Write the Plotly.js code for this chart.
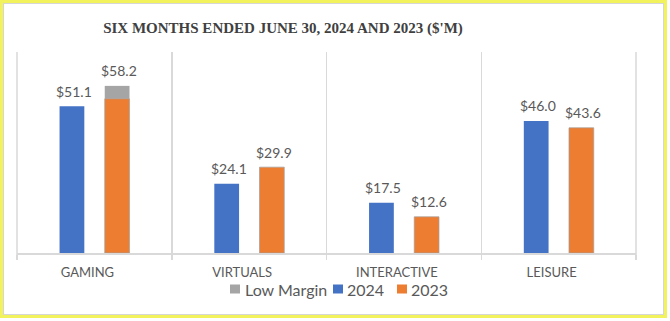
<!DOCTYPE html>
<html>
<head>
<meta charset="utf-8">
<script src="https://cdn.plot.ly/plotly-3.0.1.min.js"></script>
<style>
  html, body { margin: 0; padding: 0; background: #ffffff; }
  #wrap { position: relative; width: 670px; height: 321px; overflow: hidden; background:#fff; }
  #chart { position: absolute; left: 0; top: 0; width: 670px; height: 321px; }
  #frameOuter { position: absolute; left: 0; top: 0; width: 667px; height: 318px; box-sizing: border-box; border: 3px solid #f2f25c; pointer-events: none; }
  #frameInner { position: absolute; left: 3px; top: 3px; width: 661px; height: 312px; box-sizing: border-box; border: 1px solid #d6d6d6; pointer-events: none; }
</style>
</head>
<body>
<div id="wrap">
  <div id="chart"></div>
  <div id="frameOuter"></div>
  <div id="frameInner"></div>
</div>
<script>
// ---- data ----
const categories = ['GAMING', 'VIRTUALS', 'INTERACTIVE', 'LEISURE'];
const values2024 = [51.1, 24.1, 17.5, 46.0];
const values2023 = [53.7, 29.9, 12.6, 43.6];      // 2023 excluding low margin
const lowMargin2023 = [4.5, 0, 0, 0];             // low margin portion (stacked on 2023)
const labels2024 = ['$51.1', '$24.1', '$17.5', '$46.0'];
const labels2023 = ['$58.2', '$29.9', '$12.6', '$43.6'];
const seriesNames = ['Low Margin', '2024', '2023'];
const seriesColors = ['#a5a5a5', '#4472c4', '#ed7d31'];

// ---- layout geometry (pixels) ----
const L = 17, R = 670 - 636, T = 52, B = 321 - 253;
const W = 670 - L - R, H = 321 - T - B;
const px2x = p => (p - L) / W;
const py2y = p => (321 - B - p) / H;

const barW = 0.16, off2024 = -0.225, off2023 = 0.067;

const lowY = lowMargin2023.map(v => v > 0 ? v : null);

const traces = [
  { type: 'bar', name: seriesNames[0], x: categories, y: lowY, base: values2023,
    width: barW, offset: off2023, marker: { color: seriesColors[0] }, showlegend: false, hoverinfo: 'skip' },
  { type: 'bar', name: seriesNames[1], x: categories, y: values2024,
    width: barW, offset: off2024, marker: { color: seriesColors[1] }, showlegend: false },
  { type: 'bar', name: seriesNames[2], x: categories, y: values2023,
    width: barW, offset: off2023, marker: { color: seriesColors[2], line: { color: 'rgba(160,160,160,0.7)', width: 1 } }, showlegend: false }
];

const annotations = [];
const labelFont = { family: 'Lato, "Open Sans", sans-serif', size: 14, color: '#595959' };
categories.forEach((c, i) => {
  annotations.push({ x: i + off2024 + barW / 2, y: values2024[i], xref: 'x', yref: 'y',
    text: labels2024[i], showarrow: false, yanchor: 'middle', yshift: 15, xshift: 2, font: labelFont });
  annotations.push({ x: i + off2023 + barW / 2, y: values2023[i] + lowMargin2023[i], xref: 'x', yref: 'y',
    text: labels2023[i], showarrow: false, yanchor: 'middle', yshift: 15, xshift: 2, font: labelFont });
});

// edge separator lines (with the small tick below the axis)
const shapes = [0, 1].map(xp => ({ type: 'line', xref: 'paper', yref: 'paper',
  x0: xp, x1: xp, y0: py2y(258), y1: 1, line: { color: '#d9d9d9', width: 1.5 } }));

// custom legend
const legendSquares = [230, 333, 397];
const legendTextX = [243, 345, 409];
const legendY = 289;
seriesNames.forEach((n, i) => {
  shapes.push({ type: 'rect', xref: 'paper', yref: 'paper',
    x0: px2x(legendSquares[i]), x1: px2x(legendSquares[i] + 10),
    y0: py2y(legendY - 4.5), y1: py2y(legendY + 4.5),
    fillcolor: seriesColors[i], line: { width: 0 } });
  annotations.push({ xref: 'paper', yref: 'paper', x: px2x(legendTextX[i]), y: py2y(legendY),
    xanchor: 'left', yanchor: 'middle', showarrow: false, text: n,
    font: { family: 'Lato, "Open Sans", sans-serif', size: 16, color: '#595959' } });
});

const layout = {
  width: 670, height: 321,
  margin: { l: L, r: R, t: T, b: B, pad: 0 },
  paper_bgcolor: '#ffffff', plot_bgcolor: '#ffffff',
  barmode: 'overlay',
  showlegend: false,
  title: {
    text: "SIX MONTHS ENDED JUNE 30, 2024 AND 2023 ($'M)",
    font: { family: '"Liberation Serif", "Times New Roman", serif', size: 15, color: '#404040', weight: 'bold' },
    xref: 'container', yref: 'container', x: 283 / 670, xanchor: 'center', y: 1 - 28 / 321, yanchor: 'middle'
  },
  xaxis: {
    type: 'category', range: [-0.5, 3.5], fixedrange: true,
    tickson: 'boundaries', ticks: 'outside', ticklen: 5, tickcolor: '#d9d9d9', tickwidth: 1.5,
    showgrid: true, gridcolor: '#d9d9d9', gridwidth: 1.5,
    showline: true, linecolor: '#d9d9d9', linewidth: 1.5,
    tickfont: { family: 'Lato, "Open Sans", sans-serif', size: 13, color: '#595959' },
    ticklabelstandoff: 7, ticklabelshift: -7
  },
  yaxis: { range: [0, 70], visible: false, showgrid: false, zeroline: false, fixedrange: true },
  annotations: annotations,
  shapes: shapes
};

Plotly.newPlot('chart', traces, layout, { displayModeBar: false, staticPlot: true });
</script>
</body>
</html>
